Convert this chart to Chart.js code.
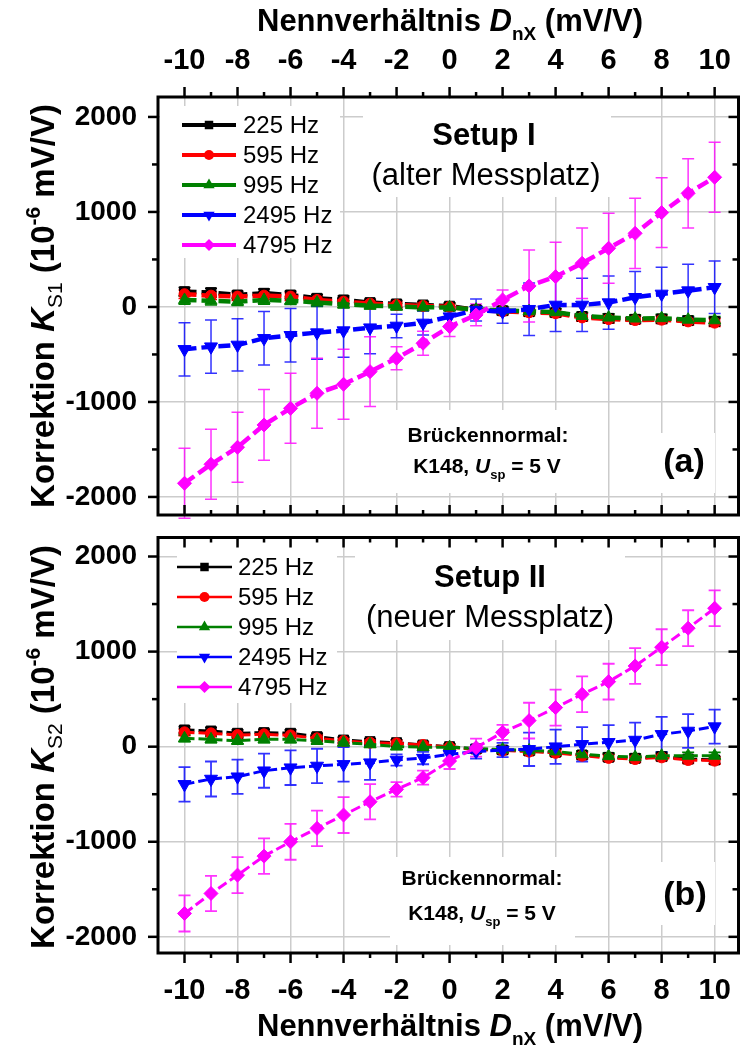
<!DOCTYPE html>
<html>
<head>
<meta charset="utf-8">
<script src="https://cdn.jsdelivr.net/npm/chart.js@4.4.0/dist/chart.umd.min.js"></script>
<style>
  body { margin: 0; background: #fff; }
  #wrap { position: relative; width: 747px; height: 1047px; }
  canvas { position: absolute; left: 0; }
</style>
</head>
<body>
<div id="wrap">
  <canvas id="chartA" width="747" height="527" style="top:0px"></canvas>
  <canvas id="chartB" width="747" height="520" style="top:527px"></canvas>
</div>
<script>
// x values (Nennverhältnis D_nX in mV/V)
var dnx = [-10, -9, -8, -7, -6, -5, -4, -3, -2, -1, 0, 1, 2, 3, 4, 5, 6, 7, 8, 9, 10];
var xTickValues = [-10, -8, -6, -4, -2, 0, 2, 4, 6, 8, 10];
var xMinorValues = [-9, -7, -5, -3, -1, 1, 3, 5, 7, 9];
var yTickValues = [-2000, -1000, 0, 1000, 2000];
var yMinorValues = [-1500, -500, 500, 1500];

var seriesNames = ['225 Hz', '595 Hz', '995 Hz', '2495 Hz', '4795 Hz'];
var seriesColors = ['#000000', '#ff0000', '#008000', '#0000ff', '#ff00ff'];
var errColors = ['#000000', '#ff0000', '#008000', 'rgba(0,0,255,0.8)', 'rgba(255,0,255,0.8)'];
var pointStyles = ['rect', 'circle', 'triangle', 'triangle', 'rectRot'];
var pointRotations = [0, 0, 0, 180, 0];

// Setup I (alter Messplatz), K_S1 in 10^-6 mV/V
var ks1_225 = [161, 151, 126, 144, 126, 91, 74, 46, 32, 21, 8, -30, -40, -50, -60, -100, -120, -130, -126, -144, -154];
var ks1_595 = [134, 119, 109, 119, 109, 74, 56, 35, 21, 11, 0, -36, -46, -56, -66, -110, -128, -138, -134, -152, -165];
var ks1_995 = [74, 66, 56, 74, 66, 46, 28, 14, 4, -4, -5, -28, -36, -45, -55, -95, -112, -122, -118, -134, -140];
var ks1_2495 = [-446, -418, -400, -330, -298, -270, -249, -218, -200, -168, -102, -32, -49, -24, 21, 21, 46, 102, 137, 172, 207];
var ks1_4795 = [-1856, -1656, -1477, -1242, -1067, -909, -814, -681, -540, -382, -207, -84, 74, 221, 319, 460, 618, 775, 993, 1196, 1365];

var ks1_225_err = [45, 45, 40, 45, 40, 40, 40, 35, 35, 35, 35, 40, 40, 40, 40, 40, 45, 40, 40, 40, 40];
var ks1_595_err = [45, 40, 40, 40, 40, 40, 40, 35, 35, 35, 35, 40, 40, 40, 40, 40, 40, 40, 40, 40, 40];
var ks1_995_err = [45, 45, 40, 45, 40, 40, 40, 35, 35, 35, 35, 40, 40, 40, 40, 40, 40, 40, 40, 40, 40];
var ks1_2495_err = [281, 281, 275, 281, 281, 280, 280, 275, 123, 126, 105, 115, 123, 277, 280, 280, 280, 270, 280, 277, 277];
var ks1_4795_err = [368, 368, 368, 372, 368, 368, 368, 368, 121, 126, 105, 115, 105, 379, 363, 372, 368, 370, 368, 365, 368];

// Setup II (neuer Messplatz), K_S2 in 10^-6 mV/V
var ks2_225 = [176, 165, 141, 148, 141, 105, 70, 53, 42, 18, 0, -24, -35, -45, -59, -87, -112, -122, -105, -130, -140];
var ks2_595 = [151, 140, 123, 130, 119, 88, 60, 42, 35, 18, -5, -30, -40, -52, -65, -95, -118, -130, -112, -140, -147];
var ks2_995 = [88, 77, 63, 77, 77, 63, 42, 25, 2, -5, -5, -20, -30, -40, -50, -80, -100, -110, -95, -95, -95];
var ks2_2495 = [-396, -340, -316, -253, -221, -203, -186, -168, -140, -120, -80, -52, -35, -28, 0, 25, 46, 70, 130, 165, 211];
var ks2_4795 = [-1754, -1544, -1351, -1151, -1000, -859, -719, -579, -449, -326, -151, -10, 151, 274, 411, 551, 684, 849, 1046, 1246, 1456];

var ks2_225_err = [35, 35, 35, 35, 35, 35, 30, 30, 30, 30, 30, 35, 35, 35, 35, 35, 35, 35, 35, 35, 35];
var ks2_595_err = [35, 35, 35, 35, 35, 35, 30, 30, 30, 30, 30, 35, 35, 35, 35, 35, 35, 35, 35, 35, 35];
var ks2_995_err = [35, 35, 35, 35, 35, 35, 30, 30, 30, 30, 30, 35, 35, 35, 35, 35, 35, 35, 35, 35, 35];
var ks2_2495_err = [181, 184, 180, 179, 182, 181, 181, 181, 60, 65, 70, 74, 75, 175, 180, 181, 180, 182, 184, 177, 179];
var ks2_4795_err = [190, 186, 189, 187, 189, 187, 189, 186, 76, 74, 84, 95, 79, 188, 189, 188, 188, 188, 189, 189, 188];

var FF = '"Liberation Sans", Arial, sans-serif';

function drawRich(ctx, parts, x, y) {
  var w = 0;
  parts.forEach(function (p) { ctx.font = p.f; p.w = ctx.measureText(p.t).width; w += p.w; });
  var cx = x - w / 2;
  ctx.textAlign = 'left';
  ctx.textBaseline = 'alphabetic';
  parts.forEach(function (p) { ctx.font = p.f; ctx.fillText(p.t, cx, y + (p.dy || 0)); cx += p.w; });
}

function drawMarker(ctx, style, rot, x, y, r) {
  ctx.beginPath();
  if (style === 'rect') {
    var s = r * Math.SQRT1_2;
    ctx.rect(x - s, y - s, 2 * s, 2 * s);
  } else if (style === 'circle') {
    ctx.arc(x, y, r, 0, Math.PI * 2);
  } else if (style === 'triangle') {
    var a = rot * Math.PI / 180;
    for (var k = 0; k < 3; k++) {
      var px = x + Math.sin(a) * r, py = y - Math.cos(a) * r;
      if (k === 0) ctx.moveTo(px, py); else ctx.lineTo(px, py);
      a += Math.PI * 2 / 3;
    }
    ctx.closePath();
  } else {
    ctx.moveTo(x, y - r); ctx.lineTo(x + r, y); ctx.lineTo(x, y + r); ctx.lineTo(x - r, y);
    ctx.closePath();
  }
  ctx.fill();
}

var panelPlugin = {
  id: 'panel',
  beforeDatasetsDraw: function (chart, args, o) {
    var ctx = chart.ctx;
    ctx.save();
    ctx.fillStyle = '#ffffff';
    o.boxes.forEach(function (b) { ctx.fillRect(b[0], b[1], b[2], b[3]); });
    var xs = chart.scales.x, ys = chart.scales.y;
    chart.data.datasets.forEach(function (ds) {
      ctx.strokeStyle = ds.errColor;
      ctx.lineWidth = o.errWidth;
      ds.data.forEach(function (p, j) {
        var px = xs.getPixelForValue(p.x);
        var y1 = ys.getPixelForValue(p.y + ds.errors[j]);
        var y2 = ys.getPixelForValue(p.y - ds.errors[j]);
        ctx.beginPath();
        ctx.moveTo(px, y1); ctx.lineTo(px, y2);
        ctx.moveTo(px - 6, y1); ctx.lineTo(px + 6, y1);
        ctx.moveTo(px - 6, y2); ctx.lineTo(px + 6, y2);
        ctx.stroke();
      });
    });
    ctx.restore();
  },
  afterDraw: function (chart, args, o) {
    var ctx = chart.ctx, a = chart.chartArea, xs = chart.scales.x, ys = chart.scales.y;
    ctx.save();
    // frame and tick marks
    ctx.strokeStyle = '#000';
    ctx.lineWidth = 2.5;
    function seg(x1, y1, x2, y2) { ctx.beginPath(); ctx.moveTo(x1, y1); ctx.lineTo(x2, y2); ctx.stroke(); }
    [[xTickValues, 10], [xMinorValues, 5]].forEach(function (g) {
      g[0].forEach(function (v) {
        var px = xs.getPixelForValue(v);
        seg(px, a.top, px, a.top + (o.topOut ? -g[1] : g[1]));
        seg(px, a.bottom, px, a.bottom + (o.bottomOut ? g[1] : -g[1]));
      });
    });
    [[yTickValues, 10], [yMinorValues, 6]].forEach(function (g) {
      g[0].forEach(function (v) {
        var py = ys.getPixelForValue(v);
        seg(a.left, py, a.left - g[1], py);
        seg(a.right, py, a.right - g[1], py);
      });
    });
    ctx.lineWidth = 3;
    ctx.strokeRect(a.left, a.top, a.right - a.left, a.bottom - a.top);

    // legend
    ctx.textAlign = 'left';
    ctx.textBaseline = 'middle';
    chart.data.datasets.forEach(function (ds, i) {
      var y = o.legend.rows[i];
      ctx.strokeStyle = seriesColors[i];
      ctx.fillStyle = seriesColors[i];
      ctx.lineWidth = o.legend.lw;
      seg(o.legend.x1, y, o.legend.x2, y);
      drawMarker(ctx, pointStyles[i], pointRotations[i], (o.legend.x1 + o.legend.x2) / 2, y, o.legend.r[i]);
      ctx.fillStyle = '#000';
      ctx.font = '24px ' + FF;
      ctx.fillText(ds.label, o.legend.tx, y + 1);
    });

    // annotations
    ctx.fillStyle = '#000';
    o.texts.forEach(function (t) { drawRich(ctx, t.parts, t.x, t.y); });

    // y axis title
    ctx.save();
    ctx.translate(54, o.yTitle.cy);
    ctx.rotate(-Math.PI / 2);
    drawRich(ctx, o.yTitle.parts, 0, 0);
    ctx.restore();

    // x axis title
    drawRich(ctx, [
      { t: 'Nennverhältnis ', f: 'bold 31px ' + FF },
      { t: 'D', f: 'italic bold 31px ' + FF },
      { t: 'nX', f: 'bold 19px ' + FF, dy: 9 },
      { t: ' (mV/V)', f: 'bold 31px ' + FF }
    ], 450, o.xTitleY);
    ctx.restore();
  }
};

function kLine(x, y) {
  return { x: x, y: y, parts: [
    { t: 'K148, ', f: 'bold 21px ' + FF },
    { t: 'U', f: 'italic bold 21px ' + FF },
    { t: 'sp', f: 'bold 13px ' + FF, dy: 6 },
    { t: ' = 5 V', f: 'bold 21px ' + FF }
  ] };
}

function yTitleParts(sub) {
  return [
    { t: 'Korrektion ', f: 'bold 33px ' + FF },
    { t: 'K', f: 'italic bold 33px ' + FF },
    { t: sub, f: '21px ' + FF, dy: 8 },
    { t: ' (10', f: 'bold 33px ' + FF },
    { t: '-6', f: 'bold 21px ' + FF, dy: -14 },
    { t: ' mV/V)', f: 'bold 33px ' + FF }
  ];
}

function buildChart(id, cfg) {
  var datasets = cfg.series.map(function (s, i) {
    return {
      label: seriesNames[i],
      data: dnx.map(function (x, j) { return { x: x, y: s[0][j] }; }),
      errors: s[1],
      errColor: errColors[i],
      borderColor: seriesColors[i],
      backgroundColor: seriesColors[i],
      pointBackgroundColor: seriesColors[i],
      pointBorderColor: seriesColors[i],
      borderWidth: cfg.lineWidth,
      borderDash: cfg.dash,
      pointStyle: pointStyles[i],
      pointRotation: pointRotations[i],
      pointRadius: cfg.radii[i],
      pointHoverRadius: cfg.radii[i],
      pointBorderWidth: 1,
      tension: 0,
      fill: false,
      order: 4 - i
    };
  });
  return new Chart(document.getElementById(id), {
    type: 'line',
    data: { datasets: datasets },
    options: {
      responsive: false,
      animation: false,
      devicePixelRatio: 1,
      layout: { padding: cfg.padding },
      plugins: { legend: { display: false }, tooltip: { enabled: false }, panel: cfg.panel },
      scales: {
        x: {
          type: 'linear', position: cfg.xPos, min: -11, max: 10.9,
          afterBuildTicks: function (s) { s.ticks = xTickValues.map(function (v) { return { value: v }; }); },
          afterFit: function (s) { s.height = cfg.xHeight; s.paddingLeft = 0; s.paddingRight = 0; },
          grid: { color: '#cccccc', lineWidth: 1.5, drawTicks: false },
          border: { display: false },
          ticks: { color: '#000', font: { family: FF, size: 29, weight: 'bold' }, padding: cfg.xPad,
                   maxRotation: 0, autoSkip: false, callback: function (v) { return String(v); } }
        },
        y: {
          type: 'linear', position: 'left', min: cfg.yMin, max: cfg.yMax,
          afterBuildTicks: function (s) { s.ticks = yTickValues.map(function (v) { return { value: v }; }); },
          afterFit: function (s) { s.width = 158; s.paddingTop = 0; s.paddingBottom = 0; },
          grid: { color: '#cccccc', lineWidth: 1.5, drawTicks: false },
          border: { display: false },
          ticks: { color: '#000', font: { family: FF, size: 28, weight: 'bold' }, padding: 21,
                   callback: function (v) { return String(v); } }
        }
      }
    },
    plugins: [panelPlugin]
  });
}

buildChart('chartA', {
  series: [[ks1_225, ks1_225_err], [ks1_595, ks1_595_err], [ks1_995, ks1_995_err], [ks1_2495, ks1_2495_err], [ks1_4795, ks1_4795_err]],
  lineWidth: 4.5, dash: [12, 5], radii: [7, 5.5, 7, 7.5, 7],
  padding: { left: 0, right: 2, top: 0, bottom: 12 },
  xPos: 'top', xHeight: 97, xPad: 19, yMin: -2190, yMax: 2210,
  panel: {
    topOut: true, bottomOut: false, errWidth: 1.5, xTitleY: 31,
    boxes: [[160, 106, 180, 152], [363, 99, 248, 98], [390, 410, 195, 83], [655, 433, 60, 60]],
    legend: { rows: [125, 155, 185, 215, 245], x1: 182, x2: 236, tx: 243, lw: 4, r: [6, 5, 6.5, 6.5, 6] },
    texts: [
      { x: 484, y: 145, parts: [{ t: 'Setup I', f: 'bold 31px ' + FF }] },
      { x: 486, y: 185, parts: [{ t: '(alter Messplatz)', f: '31px ' + FF }] },
      { x: 488, y: 442, parts: [{ t: 'Brückennormal:', f: 'bold 21px ' + FF }] },
      kLine(487, 473),
      { x: 684, y: 472, parts: [{ t: '(a)', f: 'bold 34px ' + FF }] }
    ],
    yTitle: { cy: 306, parts: yTitleParts('S1') }
  }
});

buildChart('chartB', {
  series: [[ks2_225, ks2_225_err], [ks2_595, ks2_595_err], [ks2_995, ks2_995_err], [ks2_2495, ks2_2495_err], [ks2_4795, ks2_4795_err]],
  lineWidth: 3, dash: [10, 4], radii: [7, 5.5, 7, 7.5, 7],
  padding: { left: 0, right: 2, top: 10.5, bottom: 0 },
  xPos: 'bottom', xHeight: 94, xPad: 21, yMin: -2170, yMax: 2200,
  panel: {
    topOut: false, bottomOut: true, errWidth: 1.8, xTitleY: 509,
    boxes: [[177, 19, 160, 157], [355, 12, 270, 101], [390, 330, 185, 88], [655, 335, 60, 63]],
    legend: { rows: [40, 70, 100, 130, 160], x1: 177, x2: 232, tx: 238, lw: 2.5, r: [6, 5, 6.5, 6.5, 6] },
    texts: [
      { x: 490, y: 60, parts: [{ t: 'Setup II', f: 'bold 31px ' + FF }] },
      { x: 490, y: 100, parts: [{ t: '(neuer Messplatz)', f: '31px ' + FF }] },
      { x: 482, y: 358, parts: [{ t: 'Brückennormal:', f: 'bold 21px ' + FF }] },
      kLine(482, 393),
      { x: 685, y: 378, parts: [{ t: '(b)', f: 'bold 34px ' + FF }] }
    ],
    yTitle: { cy: 220, parts: yTitleParts('S2') }
  }
});
</script>
</body>
</html>
